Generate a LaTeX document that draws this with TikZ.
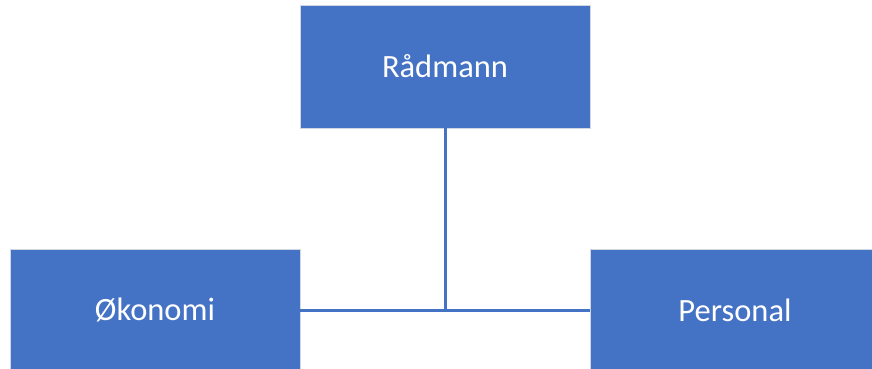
\documentclass[tikz,border=0pt]{standalone}
\usepackage{fontspec}
\setmainfont{Carlito}
\definecolor{boxblue}{HTML}{4472C4}
\definecolor{boxedge}{HTML}{D0D6E2}
\begin{document}
\begin{tikzpicture}[x=1pt,y=-1pt,
  unit/.style={rectangle, fill=boxblue, draw=boxedge, line width=0.8pt,
    minimum width=290pt, inner sep=0pt, text=white,
    font=\fontsize{32.5}{36}\selectfont},
  link/.style={draw=boxblue, line width=3pt}]
\useasboundingbox (0,0) rectangle (872,369);
\clip (0,0) rectangle (872,369);
\node[unit, minimum height=123pt] (top) at (445,66.5) {Rådmann};
\node[unit, minimum height=122pt] (left) at (155,310) {Økonomi};
\node[unit, minimum height=122pt] (right) at (735,310) {Personal};
\draw[link] (top.south) -- (top.south |- left.east);
\draw[link] (left.east) -- (right.west);
\end{tikzpicture}
\end{document}
